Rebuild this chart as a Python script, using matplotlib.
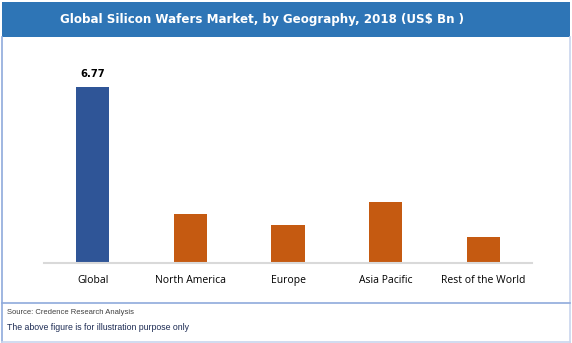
import matplotlib
matplotlib.use('Agg')
import matplotlib.pyplot as plt
from matplotlib.patches import Rectangle
from matplotlib.lines import Line2D

# data
regions = ["Global", "North America", "Europe", "Asia Pacific", "Rest of the World"]
values = [6.77, 1.89, 1.46, 2.35, 1.00]
bar_colors = ["#2F5597", "#C55A11", "#C55A11", "#C55A11", "#C55A11"]

title = "Global Silicon Wafers Market, by Geography, 2018 (US$ Bn )"
source = "Source: Credence Research Analysis"
note = "The above figure is for illustration purpose only"

W, H = 572, 343
fig = plt.figure(figsize=(W / 100, H / 100), dpi=100)

# title bar
fig.patches.append(Rectangle((2 / W, 1 - 37 / H), 568 / W, 35 / H,
                             transform=fig.transFigure, facecolor="#2E75B6",
                             edgecolor="none", zorder=0))
fig.text(262 / W, 1 - 20 / H, title, ha="center", va="center", color="white",
         fontsize=8.6, fontweight="bold", family="DejaVu Sans")

# frame lines
border = "#8FAADC"
fig.lines.append(Line2D([1.5 / W, 1.5 / W], [1 - 37 / H, 1.5 / H], transform=fig.transFigure, color=border, lw=1.2))
fig.lines.append(Line2D([569.5 / W, 569.5 / W], [1 - 37 / H, 1.5 / H], transform=fig.transFigure, color="#C9D6EE", lw=1.2))
fig.lines.append(Line2D([1.5 / W, 569.5 / W], [1.5 / H, 1.5 / H], transform=fig.transFigure, color="#C9D6EE", lw=1.2))
fig.lines.append(Line2D([1.5 / W, 569.5 / W], [1 - 303 / H, 1 - 303 / H], transform=fig.transFigure, color=border, lw=1.2))

# bars
ax = fig.add_axes([44 / W, 80 / H, 488 / W, 208 / H])
x = range(len(regions))
ax.bar(x, values, width=0.34, color=bar_colors, edgecolor="none", zorder=2)
ax.set_xlim(-0.5, len(regions) - 0.5)
ax.set_ylim(0, 8)
ax.text(0, values[0] + 0.3, f"{values[0]:.2f}", ha="center", va="bottom",
        fontsize=7.2, fontweight="bold", family="DejaVu Sans")

for s in ["top", "right", "left"]:
    ax.spines[s].set_visible(False)
ax.spines["bottom"].set_color("#D9D9D9")
ax.spines["bottom"].set_linewidth(1.5)
ax.set_yticks([])
ax.set_xticks(list(x))
ax.set_xticklabels(regions, fontsize=7.5, family="Open Sans")
ax.tick_params(axis="x", length=0, pad=8.5)

# footer
fig.text(7 / W, 1 - 312 / H, source, fontsize=5.5, color="#404040",
         va="center", family="Liberation Sans")
fig.text(7 / W, 1 - 328 / H, note, fontsize=6.3, color="#1F2D55",
         va="center", family="Liberation Sans")

fig.savefig("out.png", dpi=100)
